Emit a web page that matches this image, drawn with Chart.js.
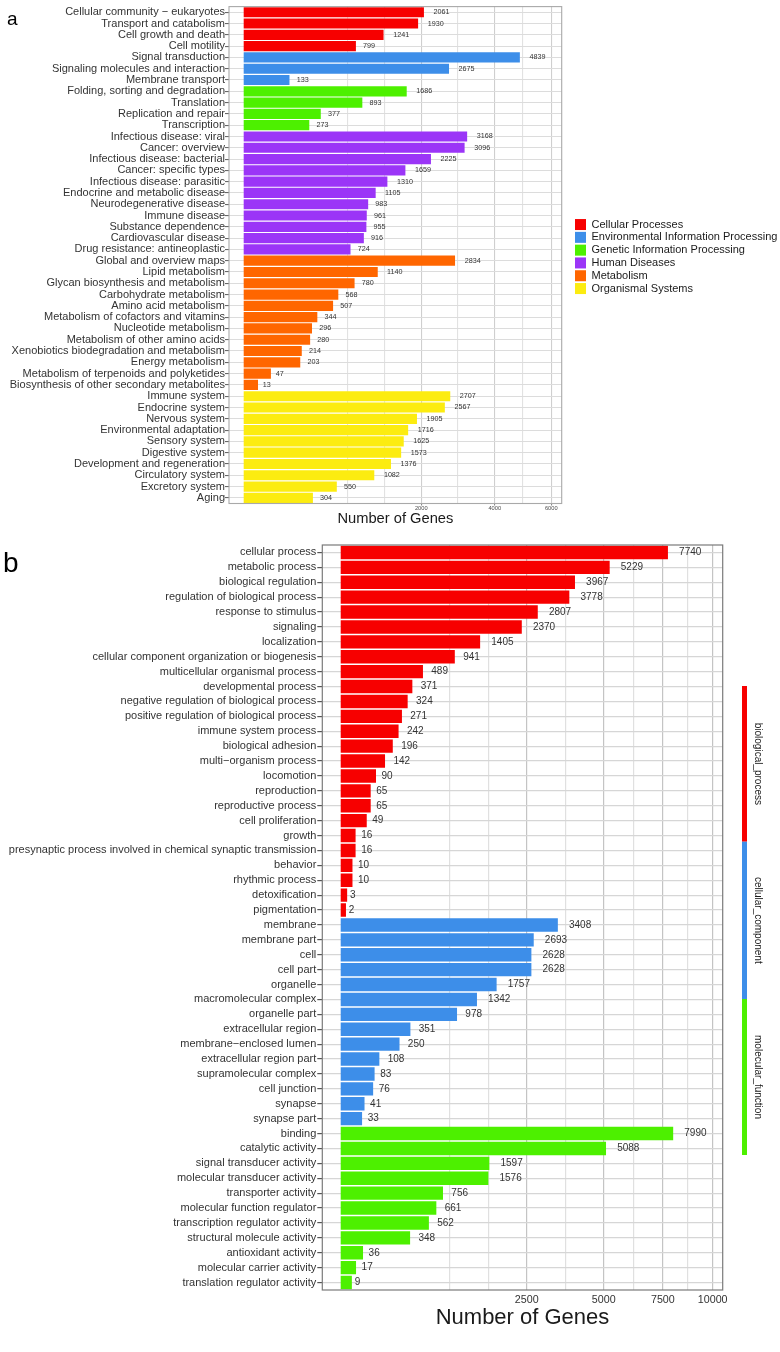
<!DOCTYPE html>
<html>
<head>
<meta charset="utf-8">
<script src="https://cdn.jsdelivr.net/npm/chart.js@4.4.1/dist/chart.umd.min.js"></script>
<style>
  body { margin: 0; background: #fff; }
  #wrapA { position: absolute; left: 0; top: 0; width: 780px; height: 530px; }
  #wrapB { position: absolute; left: 0; top: 530px; width: 780px; height: 822px; }
</style>
</head>
<body>
<div id="wrapA"><canvas id="keggChart" width="780" height="530"></canvas></div>
<div id="wrapB"><canvas id="goChart" width="780" height="822"></canvas></div>
<script>
// ---------- panel a: KEGG ----------
const keggGroups = ['Cellular Processes', 'Environmental Information Processing', 'Genetic Information Processing',
  'Human Diseases', 'Metabolism', 'Organismal Systems'];

const cellularLabels = ['Cellular community − eukaryotes', 'Transport and catabolism', 'Cell growth and death', 'Cell motility'];
const cellularValues = [2061, 1930, 1241, 799];

const environmentalLabels = ['Signal transduction', 'Signaling molecules and interaction', 'Membrane transport'];
const environmentalValues = [4839, 2675, 133];

const geneticLabels = ['Folding, sorting and degradation', 'Translation', 'Replication and repair', 'Transcription'];
const geneticValues = [1686, 893, 377, 273];

const diseaseLabels = ['Infectious disease: viral', 'Cancer: overview', 'Infectious disease: bacterial', 'Cancer: specific types',
  'Infectious disease: parasitic', 'Endocrine and metabolic disease', 'Neurodegenerative disease', 'Immune disease',
  'Substance dependence', 'Cardiovascular disease', 'Drug resistance: antineoplastic'];
const diseaseValues = [3168, 3096, 2225, 1659, 1310, 1105, 983, 961, 955, 916, 724];

const metabolismLabels = ['Global and overview maps', 'Lipid metabolism', 'Glycan biosynthesis and metabolism',
  'Carbohydrate metabolism', 'Amino acid metabolism', 'Metabolism of cofactors and vitamins', 'Nucleotide metabolism',
  'Metabolism of other amino acids', 'Xenobiotics biodegradation and metabolism', 'Energy metabolism',
  'Metabolism of terpenoids and polyketides', 'Biosynthesis of other secondary metabolites'];
const metabolismValues = [2834, 1140, 780, 568, 507, 344, 296, 280, 214, 203, 47, 13];

const organismalLabels = ['Immune system', 'Endocrine system', 'Nervous system', 'Environmental adaptation', 'Sensory system',
  'Digestive system', 'Development and regeneration', 'Circulatory system', 'Excretory system', 'Aging'];
const organismalValues = [2707, 2567, 1905, 1716, 1625, 1573, 1376, 1082, 550, 304];

const keggTicks = [2000, 4000, 6000];

// ---------- panel b: GO ----------
const goGroups = ['biological_process', 'cellular_component', 'molecular_function'];

const bpLabels = ['cellular process', 'metabolic process', 'biological regulation', 'regulation of biological process',
  'response to stimulus', 'signaling', 'localization', 'cellular component organization or biogenesis',
  'multicellular organismal process', 'developmental process', 'negative regulation of biological process',
  'positive regulation of biological process', 'immune system process', 'biological adhesion', 'multi−organism process',
  'locomotion', 'reproduction', 'reproductive process', 'cell proliferation', 'growth',
  'presynaptic process involved in chemical synaptic transmission', 'behavior', 'rhythmic process', 'detoxification',
  'pigmentation'];
const bpValues = [7740, 5229, 3967, 3778, 2807, 2370, 1405, 941, 489, 371, 324, 271, 242, 196, 142, 90, 65, 65, 49, 16, 16, 10, 10, 3, 2];

const ccLabels = ['membrane', 'membrane part', 'cell', 'cell part', 'organelle', 'macromolecular complex', 'organelle part',
  'extracellular region', 'membrane−enclosed lumen', 'extracellular region part', 'supramolecular complex',
  'cell junction', 'synapse', 'synapse part'];
const ccValues = [3408, 2693, 2628, 2628, 1757, 1342, 978, 351, 250, 108, 83, 76, 41, 33];

const mfLabels = ['binding', 'catalytic activity', 'signal transducer activity', 'molecular transducer activity',
  'transporter activity', 'molecular function regulator', 'transcription regulator activity',
  'structural molecule activity', 'antioxidant activity', 'molecular carrier activity', 'translation regulator activity'];
const mfValues = [7990, 5088, 1597, 1576, 756, 661, 562, 348, 36, 17, 9];

const goTicks = [2500, 5000, 7500, 10000];

const keggColors = ['#f70000', '#3d8ee9', '#4df000', '#9b35f7', '#ff6600', '#fcec10'];
const goColors = ['#f70000', '#3d8ee9', '#4df000'];

const FONT = '"Liberation Sans", Arial, sans-serif';
Chart.defaults.font.family = FONT;

// one dataset per group, nulls elsewhere, so every bar keeps its own row
function buildData(groups, labelSets, valueSets, colors) {
  const labels = [].concat(...labelSets);
  let offset = 0;
  const datasets = groups.map((g, gi) => {
    const data = labels.map(() => null);
    valueSets[gi].forEach((v, i) => { data[offset + i] = v; });
    offset += valueSets[gi].length;
    return {
      label: g, data: data, backgroundColor: colors[gi], borderWidth: 0,
      grouped: false, barPercentage: 0.9, categoryPercentage: 1.0
    };
  });
  return { labels, datasets };
}

// square-root axis, like scale_x_sqrt in ggplot
const tr = v => Math.sign(v) * Math.sqrt(Math.abs(v));
const inv = t => Math.sign(t) * t * t;

class SqrtScale extends Chart.LinearScale {
  determineDataLimits() {
    this.min = this.options.min;
    this.max = this.options.max;
  }
  buildTicks() {
    const tMin = tr(this.min), tMax = tr(this.max);
    const majors = Array.from(this.options.majorTicks);
    // breaks in sqrt space; minor lines sit halfway, plus one step past each end
    let b = majors.map(v => ({ t: tr(v), value: v, major: true }));
    const bd = b[1].t - b[0].t;
    if (tMin < b[0].t) b.unshift({ t: b[0].t - bd, value: inv(b[0].t - bd), major: false });
    const last = b[b.length - 1].t;
    if (tMax > last) b.push({ t: last + bd, value: inv(last + bd), major: false });
    const ticks = [];
    b.forEach((k, i) => {
      ticks.push({ value: k.value, major: k.major });
      if (i < b.length - 1) ticks.push({ value: inv((k.t + b[i + 1].t) / 2), major: false });
    });
    return ticks.filter(k => tr(k.value) >= tMin && tr(k.value) <= tMax);
  }
  configure() {
    super.configure();
    this._tStart = tr(this.min);
    this._tRange = tr(this.max) - this._tStart;
  }
  getPixelForValue(v) {
    return this.getPixelForDecimal((tr(v) - this._tStart) / this._tRange);
  }
  getValueForPixel(p) {
    return inv(this._tStart + this.getDecimalForPixel(p) * this._tRange);
  }
}
SqrtScale.id = 'sqrt';
SqrtScale.defaults = Chart.LinearScale.defaults;
Chart.register(SqrtScale);

function majorLabel(value, index, ticks) {
  return ticks[index].major ? String(value) : '';
}

// value text to the right of each bar (hjust < 0 in ggplot terms)
const barValues = {
  id: 'barValues',
  afterDatasetsDraw(chart, args, opts) {
    const ctx = chart.ctx;
    ctx.save();
    ctx.font = opts.size + 'px ' + FONT;
    ctx.fillStyle = opts.color;
    ctx.textBaseline = 'middle';
    ctx.textAlign = 'left';
    chart.data.datasets.forEach((ds, di) => {
      chart.getDatasetMeta(di).data.forEach((bar, i) => {
        const v = ds.data[i];
        if (v == null) return;
        const txt = String(v);
        ctx.fillText(txt, bar.x + opts.hjust * ctx.measureText(txt).width, bar.y);
      });
    });
    ctx.restore();
  }
};

// panel border and the a / b letter
const panelFrame = {
  id: 'panelFrame',
  afterDraw(chart, args, opts) {
    const { ctx, chartArea: a } = chart;
    ctx.save();
    ctx.strokeStyle = opts.color;
    ctx.lineWidth = opts.width;
    ctx.strokeRect(a.left, a.top, a.right - a.left, a.bottom - a.top);
    ctx.fillStyle = '#000';
    ctx.font = opts.letterSize + 'px ' + FONT;
    ctx.textBaseline = 'alphabetic';
    ctx.fillText(opts.letter, opts.letterX, opts.letterY);
    ctx.restore();
  }
};
Chart.register(barValues, panelFrame);

// ggplot style key for panel a
const keggLegend = {
  id: 'keggLegend',
  afterDraw(chart) {
    const ctx = chart.ctx;
    const a = chart.chartArea;
    const rowH = 12.8, box = 11;
    const top = (a.top + a.bottom) / 2 - chart.data.datasets.length * rowH / 2 + 1.5;
    ctx.save();
    ctx.font = '11px ' + FONT;
    ctx.textBaseline = 'middle';
    chart.data.datasets.forEach((ds, i) => {
      const y = top + i * rowH;
      ctx.fillStyle = ds.backgroundColor;
      ctx.fillRect(575, y + (rowH - box) / 2, box, box);
      ctx.fillStyle = '#1a1a1a';
      ctx.fillText(ds.label, 591.5, y + rowH / 2);
    });
    ctx.restore();
  }
};

// coloured side strips with rotated group names for panel b
const goStrips = {
  id: 'goStrips',
  afterDraw(chart) {
    const ctx = chart.ctx;
    const spans = [[156, 311.7], [311.7, 469], [469, 625]];
    ctx.save();
    ctx.font = '10px ' + FONT;
    ctx.textAlign = 'center';
    ctx.textBaseline = 'middle';
    chart.data.datasets.forEach((ds, i) => {
      const [y0, y1] = spans[i];
      ctx.fillStyle = ds.backgroundColor;
      ctx.fillRect(742, y0, 5, y1 - y0);
      ctx.save();
      ctx.translate(757.5, (y0 + y1) / 2);
      ctx.rotate(Math.PI / 2);
      ctx.fillStyle = '#1a1a1a';
      ctx.fillText(ds.label, 0, 0);
      ctx.restore();
    });
    ctx.restore();
  }
};

const keggData = buildData(keggGroups,
  [cellularLabels, environmentalLabels, geneticLabels, diseaseLabels, metabolismLabels, organismalLabels],
  [cellularValues, environmentalValues, geneticValues, diseaseValues, metabolismValues, organismalValues],
  keggColors);

new Chart(document.getElementById('keggChart'), {
  type: 'bar',
  data: keggData,
  plugins: [keggLegend],
  options: {
    indexAxis: 'y',
    responsive: false,
    animation: false,
    layout: { padding: { left: 0, right: 218.3, top: 3.2, bottom: 0 } },
    scales: {
      x: {
        type: 'sqrt', min: -13.7, max: 6416, majorTicks: keggTicks,
        ticks: { autoSkip: false, maxRotation: 0, padding: 0, color: '#4d4d4d', font: { size: 5.7 }, callback: majorLabel },
        grid: { color: c => (c.tick && c.tick.major ? '#cfcfcf' : '#e2e2e2'), lineWidth: 1.1, tickLength: 2,
                tickColor: c => (c.tick && c.tick.major ? '#888' : 'rgba(0,0,0,0)') },
        border: { display: false },
        title: { display: true, text: 'Number of Genes', color: '#1a1a1a', font: { size: 14.7 }, padding: { top: 0, bottom: 2.2 } },
        afterFit: s => { s.height = 26.5; }
      },
      y: {
        ticks: { autoSkip: false, padding: 0, color: '#333', font: { size: 11 } },
        grid: { offset: false, color: '#dcdcdc', lineWidth: 1.1, tickLength: 4, tickColor: '#666' },
        border: { display: false },
        afterFit: s => { s.width = 229; }
      }
    },
    plugins: {
      legend: { display: false },
      tooltip: { enabled: false },
      barValues: { size: 7.2, color: '#333', hjust: 0.6 },
      panelFrame: { color: '#a9a9a9', width: 1.1, letter: 'a', letterSize: 19, letterX: 7, letterY: 25 }
    }
  }
});

const goData = buildData(goGroups, [bpLabels, ccLabels, mfLabels], [bpValues, ccValues, mfValues], goColors);

new Chart(document.getElementById('goChart'), {
  type: 'bar',
  data: goData,
  plugins: [goStrips],
  options: {
    indexAxis: 'y',
    responsive: false,
    animation: false,
    layout: { padding: { left: 0, right: 57.3, top: 15, bottom: 20 } },
    scales: {
      x: {
        type: 'sqrt', min: -24.5, max: 10547, majorTicks: goTicks,
        ticks: { autoSkip: false, maxRotation: 0, padding: 1, color: '#333', font: { size: 10.7 }, callback: majorLabel },
        grid: { color: c => (c.tick && c.tick.major ? '#c4c4c4' : '#e0e0e0'), lineWidth: 1.2, tickLength: 3,
                tickColor: 'rgba(0,0,0,0)' },
        border: { display: false },
        title: { display: true, text: 'Number of Genes', color: '#1a1a1a', font: { size: 22 }, padding: { top: 0, bottom: 1.1 } },
        afterFit: s => { s.height = 42; }
      },
      y: {
        ticks: { autoSkip: false, padding: 1, color: '#333', font: { size: 11 } },
        grid: { offset: false, color: '#d6d6d6', lineWidth: 1.2, tickLength: 5, tickColor: '#555' },
        border: { display: false },
        afterFit: s => { s.width = 322.3; }
      }
    },
    plugins: {
      legend: { display: false },
      tooltip: { enabled: false },
      barValues: { size: 10, color: '#333', hjust: 0.5 },
      panelFrame: { color: '#7a7a7a', width: 1.2, letter: 'b', letterSize: 28, letterX: 3, letterY: 41.5 }
    }
  }
});
</script>
</body>
</html>
